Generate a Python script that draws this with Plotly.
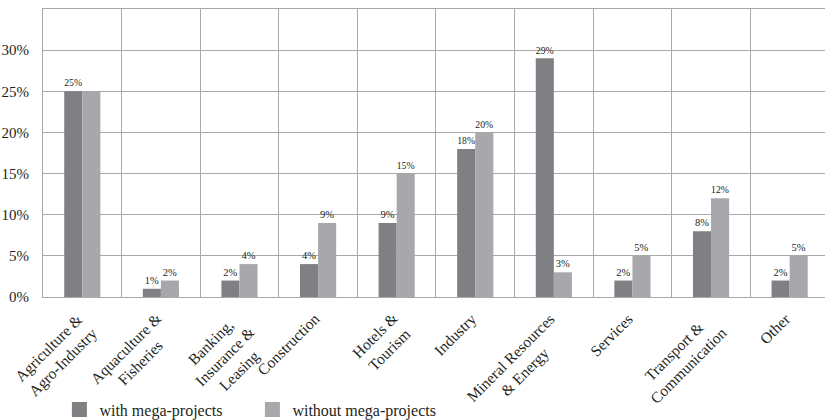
import plotly.graph_objects as go

# Sector labels (line breaks as they appear on the axis)
categories = [
    "Agriculture &\nAgro-Industry",
    "Aquaculture &\nFisheries",
    "Banking,\nInsurance &\nLeasing",
    "Construction",
    "Hotels &\nTourism",
    "Industry",
    "Mineral Resources\n& Energy",
    "Services",
    "Transport &\nCommunication",
    "Other",
]

# Share of investment by sector, in percent
with_mega = [25, 1, 2, 4, 9, 18, 29, 2, 8, 2]
without_mega = [25, 2, 4, 9, 15, 20, 3, 5, 12, 5]
# The first sector carries a single label for both bars
without_mega_labeled = [False, True, True, True, True, True, True, True, True, True]

y_ticks = [0, 5, 10, 15, 20, 25, 30]

DARK = "#808084"
LIGHT = "#a8a8ac"
GRID = "#a9a9a9"
TEXT = "#231f20"
FONT = "Liberation Serif, Times New Roman, serif"

xs = list(range(len(categories)))

fig = go.Figure()

fig.add_trace(go.Bar(
    x=xs, y=with_mega, marker=dict(color=DARK, line=dict(width=0)),
    text=[f"{v}%" for v in with_mega], textposition="outside",
    textfont=dict(size=10.5, color=TEXT, family=FONT),
    cliponaxis=False, showlegend=False, hoverinfo="skip",
))
fig.add_trace(go.Bar(
    x=xs, y=without_mega, marker=dict(color=LIGHT, line=dict(width=0)),
    text=[f"{v}%" if show else "" for v, show in zip(without_mega, without_mega_labeled)],
    textposition="outside",
    textfont=dict(size=10.5, color=TEXT, family=FONT),
    cliponaxis=False, showlegend=False, hoverinfo="skip",
))

# Legend entries drawn as square swatches
for name, color in [("with mega-projects", DARK), ("without mega-projects", LIGHT)]:
    fig.add_trace(go.Scatter(
        x=[None], y=[None], mode="markers", name=name,
        marker=dict(symbol="square", size=15, color=color),
    ))

# Rotated, centred multi-line category labels under the axis
for i, label in enumerate(categories):
    lines = label.split("\n")
    fig.add_annotation(
        x=i, y=0, xref="x", yref="y",
        text="<br>".join(lines), showarrow=False,
        textangle=-45, align="center",
        xanchor="right", yanchor="top",
        xshift=7 + 14 * (len(lines) - 1), yshift=-10,
        font=dict(size=15.5, color=TEXT, family=FONT),
    )

fig.update_layout(
    width=825, height=420,
    margin=dict(l=43, r=0, t=9, b=123),
    paper_bgcolor="white", plot_bgcolor="white",
    barmode="group", bargap=0.54, bargroupgap=0,
    font=dict(family=FONT, color=TEXT),
    legend=dict(
        orientation="h", xref="container", yref="container",
        x=0.072, y=0.025, xanchor="left", yanchor="middle",
        font=dict(size=16, color=TEXT, family=FONT),
        entrywidth=148, itemsizing="trace",
        bgcolor="rgba(0,0,0,0)",
    ),
    xaxis=dict(
        range=[-0.5, 9.45], showticklabels=False, ticks="",
        showgrid=False, zeroline=False,
        showline=True, linecolor=GRID, linewidth=1, mirror=True,
        minor=dict(tickvals=[i + 0.5 for i in xs], showgrid=True,
                   gridcolor=GRID, gridwidth=1, ticks=""),
    ),
    yaxis=dict(
        range=[0, 35], tickvals=y_ticks,
        ticktext=[f"{v}%" for v in y_ticks],
        tickfont=dict(size=15, color=TEXT, family=FONT),
        ticks="", ticklabelstandoff=10,
        showgrid=True, gridcolor=GRID, gridwidth=1,
        zeroline=False, showline=True, linecolor=GRID, linewidth=1,
    ),
)

fig.write_html("out.html")
